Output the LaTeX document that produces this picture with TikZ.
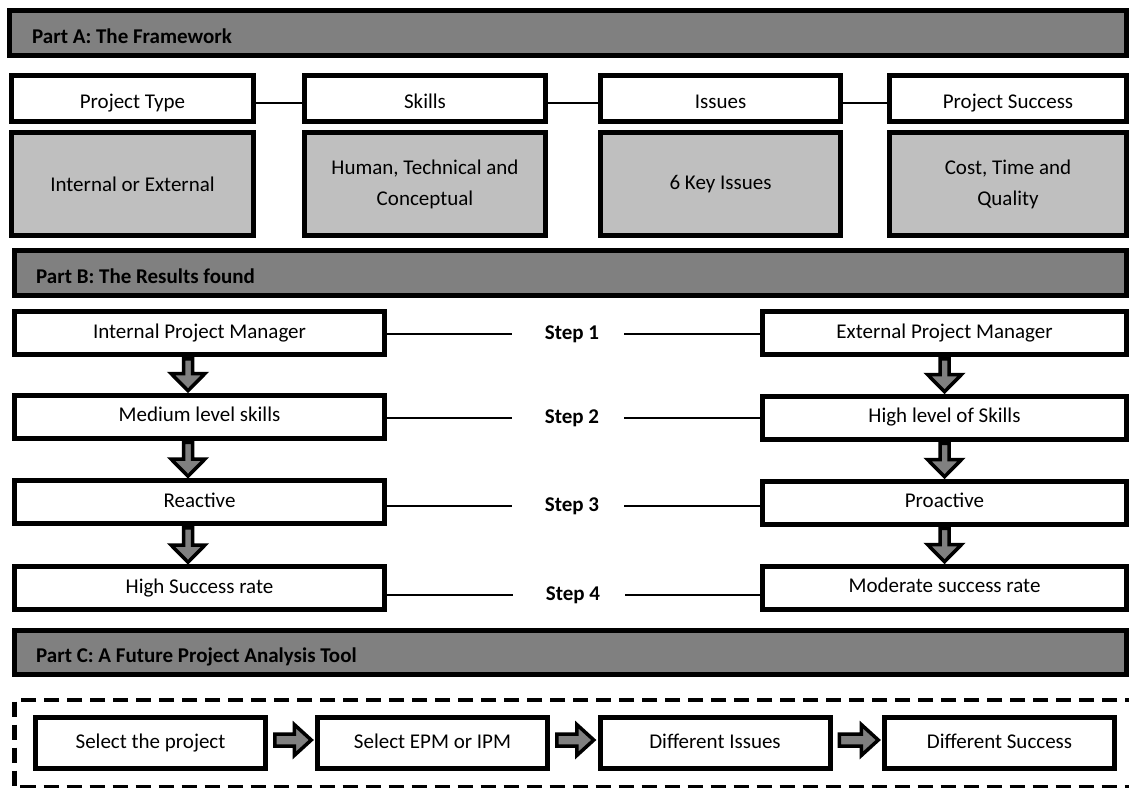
\documentclass[tikz,border=0pt]{standalone}
\usepackage{fontspec}
\setmainfont{Carlito}
\usetikzlibrary{calc}

% thick outlined block arrow pointing down, from one box to the next
\newcommand\blockdown[3]{%
  \draw[blockarrow] let \p1=(#1.south), \p2=(#2.north) in
    ({\x1+(#3)-4.5pt},{\y1-4.25pt}) -- ({\x1+(#3)+4.5pt},{\y1-4.25pt})
    -- ({\x1+(#3)+4.5pt},{\y2+21.5pt}) -- ({\x1+(#3)+17pt},{\y2+21.5pt})
    -- ({\x1+(#3)},{\y2+4.25pt})
    -- ({\x1+(#3)-17pt},{\y2+21.5pt}) -- ({\x1+(#3)-4.5pt},{\y2+21.5pt}) -- cycle;}

% thick outlined block arrow pointing right, from one box to the next
\newcommand\blockright[2]{%
  \draw[blockarrow] let \p1=(#1.east), \p2=(#2.west) in
    ({\x1+9.25pt},{\y1+9pt}) -- ({\x2-23.25pt},{\y1+9pt})
    -- ({\x2-23.25pt},{\y1+18.5pt}) -- ({\x2-6.25pt},{\y1+3pt})
    -- ({\x2-23.25pt},{\y1-12.5pt}) -- ({\x2-23.25pt},{\y1-3pt})
    -- ({\x1+9.25pt},{\y1-3pt}) -- cycle;}

\begin{document}
\begin{tikzpicture}[x=1pt,y=-1pt,
  every node/.style={font=\fontsize{21}{31}\selectfont},
  box/.style={draw=black, line width=5pt, fill=white, inner sep=0pt, outer sep=0pt, align=center},
  line/.style={text height=14pt, text depth=4pt},
  greybox/.style={box, fill=gray!50},
  bar/.style={draw=black, line width=5pt, fill=gray, inner sep=0pt, outer sep=0pt},
  title/.style={font=\fontsize{21}{31}\selectfont\bfseries, anchor=west, inner sep=0pt,
                text height=13.5pt, text depth=0pt},
  steplbl/.style={font=\fontsize{21}{31}\selectfont\bfseries, inner sep=0pt},
  link/.style={draw=black, line width=1.5pt},
  blockarrow/.style={draw=black, line width=3.5pt, fill=gray, line join=miter, miter limit=10},
  frame/.style={draw=black, line width=4.5pt, dash pattern=on 15pt off 8pt},
  fw/.style={box, minimum height=46pt, text height=19.6pt, text depth=0pt},
  fwval/.style={greybox, minimum height=103pt},
  lbox/.style={box, line, minimum width=370pt, minimum height=43pt},
  rbox/.style={box, line, minimum width=364pt, minimum height=43pt},
  tool/.style={box, line, minimum width=230pt, minimum height=51pt}
]
\useasboundingbox (0,0) rectangle (1129,787);

% ---------- Part A ----------
\node[bar, minimum width=1117pt, minimum height=45pt] (barA) at (568,33) {};
\node[title] (titleA) at ([xshift=22.5pt,yshift=-3.5pt]barA.west) {Part A: The Framework};

\node[fw, minimum width=242pt] (ptype)  at (132.5,98.5) {Project Type};
\node[fw, minimum width=241pt] (skills) at (425,98.5)   {Skills};
\node[fw, minimum width=240pt] (issues) at (720.5,98.5) {Issues};
\node[fw, minimum width=237pt] (psucc)  at (1008,98.5)  {Project Success};

\node[fwval, minimum width=242pt] (ptypeval)  at (132.5,184) {Internal or External};
\node[fwval, minimum width=241pt] (skillsval) at (425,184)   {Human, Technical and\\Conceptual};
\node[fwval, minimum width=240pt] (issuesval) at (720.5,184) {6 Key Issues};
\node[fwval, minimum width=237pt] (psuccval)  at (1008,184)  {Cost, Time and\\Quality};

\draw[link] ([yshift=-4.5pt]ptype.east)  -- ([yshift=-4.5pt]skills.west);
\draw[link] ([yshift=-4.5pt]skills.east) -- ([yshift=-4.5pt]issues.west);
\draw[link] ([yshift=-4.5pt]issues.east) -- ([yshift=-4.5pt]psucc.west);

% ---------- Part B ----------
\node[bar, minimum width=1112pt, minimum height=45pt] (barB) at (570.5,273) {};
\node[title] (titleB) at ([xshift=21.5pt,yshift=-3.5pt]barB.west) {Part B: The Results found};

\node[lbox] (ipm)   at (199.5,333)   {Internal Project Manager};
\node[lbox] (med)   at (199.5,416.5) {Medium level skills};
\node[lbox] (react) at (199.5,502)   {Reactive};
\node[lbox] (hsr)   at (199.5,588)   {High Success rate};

\node[rbox] (epm)    at (944.5,333)   {External Project Manager};
\node[rbox] (hls)    at (944.5,417.5) {High level of Skills};
\node[rbox] (proact) at (944.5,502.5) {Proactive};
\node[rbox] (mod)    at (944.5,587.5) {Moderate success rate};

\node[steplbl] (s1) at (572,334) {Step 1};
\node[steplbl] (s2) at (572,418) {Step 2};
\node[steplbl] (s3) at (572,506) {Step 3};
\node[steplbl] (s4) at (573,595) {Step 4};

\foreach \l/\s/\r in {ipm/s1/epm, med/s2/hls, react/s3/proact, hsr/s4/mod}{
  \draw[link] (\s.west -| \l.east) -- ([xshift=-33pt]\s.west);
  \draw[link] ([xshift=25pt]\s.east) -- (\s.east -| \r.west);
}

\blockdown{ipm}{med}{-11.5pt}
\blockdown{med}{react}{-11.5pt}
\blockdown{react}{hsr}{-11.5pt}
\blockdown{epm}{hls}{0pt}
\blockdown{hls}{proact}{0pt}
\blockdown{proact}{mod}{0pt}

% ---------- Part C ----------
\node[bar, minimum width=1112pt, minimum height=44pt] (barC) at (570.5,652.5) {};
\node[title] (titleC) at ([xshift=21.5pt,yshift=-3.5pt]barC.west) {Part C: A Future Project Analysis Tool};

\begin{scope}
  \clip (0,0) rectangle (1129,787);
  \draw[frame] (1140,700) -- (14.5,700) -- (14.5,787.5) -- (1140,787.5);
\end{scope}

\node[tool] (selproj) at (150.5,743) {Select the project};
\node[tool] (selpm)   at (432.5,743) {Select EPM or IPM};
\node[tool] (diffiss) at (715,743)   {Different Issues};
\node[tool] (diffsuc) at (999.5,743) {Different Success};

\blockright{selproj}{selpm}
\blockright{selpm}{diffiss}
\blockright{diffiss}{diffsuc}

\end{tikzpicture}
\end{document}
